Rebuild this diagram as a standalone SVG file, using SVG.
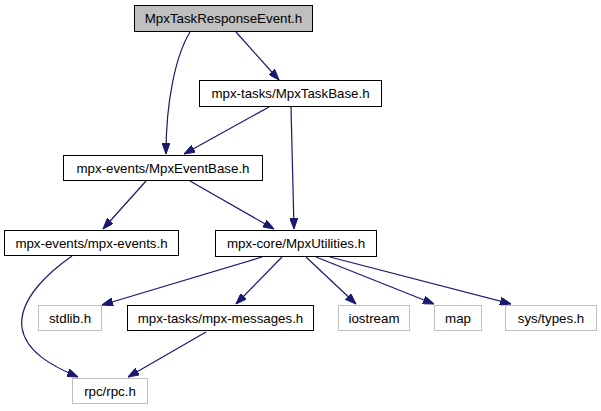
<svg xmlns="http://www.w3.org/2000/svg" width="601" height="411" viewBox="0 0 601 411">
<style>
.n rect{fill:#ffffff;stroke:#000000;stroke-width:1}
.g rect{fill:#ffffff;stroke:#bfbfbf;stroke-width:1}
.root rect{fill:#bfbfbf;stroke:#000000;stroke-width:1}
text{font-family:"Liberation Sans",Arial,Helvetica,sans-serif;font-size:13.3px;text-anchor:middle;fill:#000000}
.e path{fill:none;stroke:#191970;stroke-width:1.2;marker-end:url(#ah)}
</style>
<defs>
<marker id="ah" markerUnits="userSpaceOnUse" markerWidth="11" markerHeight="8" refX="11" refY="4" orient="auto">
<path d="M0,0 L11,4 L0,8 z" fill="#191970" stroke="#191970" stroke-width="1"/>
</marker>
</defs>
<rect width="601" height="411" fill="#ffffff"/>
<g id="edges" class="e">
<path d="M190,32 C176,55 166,100 166,154"/>
<path d="M236,32 L279,80"/>
<path d="M269,107 L184,154"/>
<path d="M291,107 L294,229"/>
<path d="M146,181 L103,229"/>
<path d="M190,181 L274,229"/>
<path d="M72,256 C52,270 18,298 22,328 C26,352 52,366 78,377"/>
<path d="M262,257 L102,305"/>
<path d="M282,257 L236,304"/>
<path d="M306,257 L356,304"/>
<path d="M316,257 L434,304"/>
<path d="M330,257 L511,304"/>
<path d="M206,332 L128,377"/>
</g>
<g id="node1" class="root"><rect x="134.5" y="5.5" width="178" height="26"/><text x="223.5" y="23">MpxTaskResponseEvent.h</text></g>
<g id="node2" class="n"><rect x="199.5" y="80.5" width="182" height="26"/><text x="290.5" y="98">mpx-tasks/MpxTaskBase.h</text></g>
<g id="node3" class="n"><rect x="63.5" y="155.5" width="199" height="25"/><text x="163" y="172.5">mpx-events/MpxEventBase.h</text></g>
<g id="node4" class="n"><rect x="4.5" y="230.5" width="174" height="25"/><text x="91.5" y="247.5">mpx-events/mpx-events.h</text></g>
<g id="node5" class="n"><rect x="215.5" y="230.5" width="161" height="26"/><text x="296" y="248">mpx-core/MpxUtilities.h</text></g>
<g id="node6" class="g"><rect x="38.5" y="305.5" width="63" height="25"/><text x="70" y="322.5">stdlib.h</text></g>
<g id="node7" class="n"><rect x="127.5" y="305.5" width="186" height="25"/><text x="220.5" y="322.5">mpx-tasks/mpx-messages.h</text></g>
<g id="node8" class="g"><rect x="338.5" y="305.5" width="71" height="25"/><text x="374" y="322.5">iostream</text></g>
<g id="node9" class="g"><rect x="434.5" y="305.5" width="47" height="25"/><text x="458" y="322.5">map</text></g>
<g id="node10" class="g"><rect x="505.5" y="305.5" width="91" height="25"/><text x="551" y="322.5">sys/types.h</text></g>
<g id="node11" class="g"><rect x="72.5" y="378.5" width="75" height="25"/><text x="110" y="395.5">rpc/rpc.h</text></g>
</svg>
